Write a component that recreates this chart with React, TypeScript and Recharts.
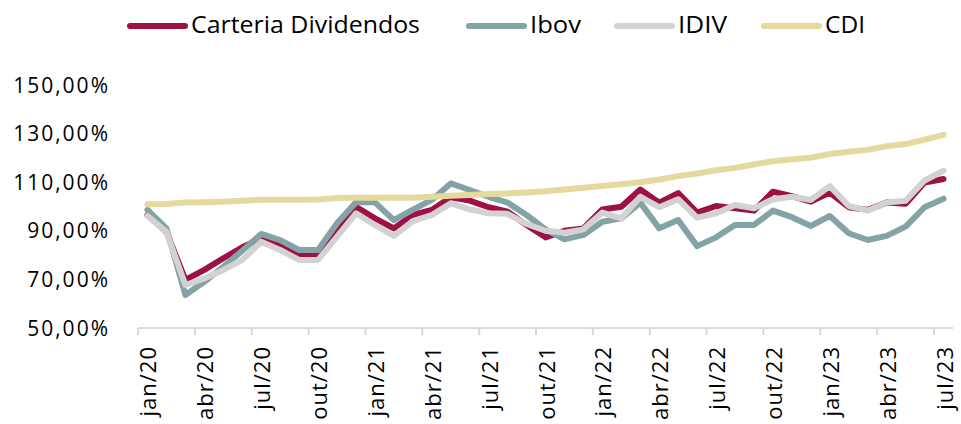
import React from 'react';
import { LineChart, Line, XAxis, YAxis } from 'recharts';

const months: string[] = [
  'jan/20','fev/20','mar/20','abr/20','mai/20','jun/20','jul/20','ago/20','set/20','out/20','nov/20','dez/20',
  'jan/21','fev/21','mar/21','abr/21','mai/21','jun/21','jul/21','ago/21','set/21','out/21','nov/21','dez/21',
  'jan/22','fev/22','mar/22','abr/22','mai/22','jun/22','jul/22','ago/22','set/22','out/22','nov/22','dez/22',
  'jan/23','fev/23','mar/23','abr/23','mai/23','jun/23','jul/23',
];

const carteria: number[] = [
  96.5, 89.6, 69.8, 73.9, 78.7, 83.2, 86.9, 84.2, 80.0, 80.0, 89.6, 99.9,
  95.1, 91.0, 96.5, 98.6, 103.8, 102.4, 99.7, 97.9, 92.4, 87.3, 90.0, 91.0,
  98.8, 99.9, 107.0, 101.6, 105.5, 97.5, 100.2, 99.3, 98.3, 106.1, 104.3, 102.0,
  105.7, 99.7, 98.6, 101.6, 101.1, 109.9, 111.3,
];

const ibov: number[] = [
  98.6, 91.0, 63.6, 69.0, 75.2, 81.8, 88.7, 86.2, 82.1, 82.1, 93.1, 101.7,
  101.7, 94.4, 98.7, 102.7, 109.5, 106.8, 104.0, 101.6, 96.5, 90.6, 86.5, 88.3,
  93.7, 95.1, 101.6, 91.0, 94.4, 83.7, 87.3, 92.4, 92.4, 98.3, 95.6, 92.0,
  96.1, 89.0, 86.2, 87.9, 91.7, 99.7, 103.2,
];

const idiv: number[] = [
  96.1, 89.6, 67.7, 70.4, 73.9, 78.0, 85.5, 82.1, 78.0, 78.0, 87.6, 97.2,
  92.4, 87.9, 94.0, 96.5, 101.3, 98.8, 97.2, 97.0, 92.8, 90.0, 89.2, 90.6,
  97.5, 95.1, 104.0, 99.7, 103.0, 95.4, 97.2, 100.6, 99.3, 103.0, 104.0, 102.7,
  108.4, 100.2, 98.3, 101.6, 102.4, 110.7, 114.8,
];

const cdi: number[] = [
  100.9, 101.0, 101.6, 101.8, 102.0, 102.4, 102.8, 102.8, 102.8, 102.9, 103.5, 103.6,
  103.6, 103.7, 103.6, 104.0, 104.4, 104.7, 105.1, 105.4, 105.8, 106.3, 107.0, 107.7,
  108.4, 109.2, 110.0, 111.1, 112.5, 113.6, 114.9, 115.9, 117.3, 118.6, 119.4, 120.1,
  121.6, 122.5, 123.3, 124.8, 125.7, 127.5, 129.5,
];

const yTicks: number[] = [50, 70, 90, 110, 130, 150];
const xTickIdx: number[] = [0, 3, 6, 9, 12, 15, 18, 21, 24, 27, 30, 33, 36, 39, 42];

const seriesDefs = [
  { key: 'carteria', name: 'Carteria Dividendos', color: '#9E1146' },
  { key: 'ibov', name: 'Ibov', color: '#84A3A6' },
  { key: 'idiv', name: 'IDIV', color: '#D3D1D2' },
  { key: 'cdi', name: 'CDI', color: '#E4DA9E' },
];

const legendLayout = [
  { x: 127, textLen: 229 },
  { x: 466, textLen: 51 },
  { x: 614, textLen: 49 },
  { x: 761, textLen: 40 },
];

const data = months.map((m, i) => ({
  i,
  m,
  carteria: carteria[i],
  ibov: ibov[i],
  idiv: idiv[i],
  cdi: cdi[i],
}));

const W = 961;
const H = 424;
const PLOT_LEFT = 138;
const PLOT_RIGHT = 953;
const PLOT_TOP = 85;
const PLOT_BOTTOM = 328;
const BAND = (PLOT_RIGHT - PLOT_LEFT) / months.length;
const FONT = '"Open Sans", "DejaVu Sans", sans-serif';

const XTick = (props: any) => {
  const { x, payload } = props;
  const idx = payload.value as number;
  const label = months[idx];
  const tx = x + 9;
  const ty = PLOT_BOTTOM + 18;
  return (
    <g>
      <line x1={x - BAND / 2} x2={x - BAND / 2} y1={PLOT_BOTTOM} y2={PLOT_BOTTOM + 7} stroke="#D9D9D9" strokeWidth={2} />
      <text
        x={tx}
        y={ty}
        transform={`rotate(-90, ${tx}, ${ty})`}
        textAnchor="end"
        fontFamily={FONT}
        fontSize={22}
        letterSpacing={1}
        fill="#000"
      >
        {label}
      </text>
    </g>
  );
};

const YTick = (props: any) => {
  const { y, payload } = props;
  const v = payload.value as number;
  return (
    <text
      x={110}
      y={y}
      dy="0.36em"
      textAnchor="end"
      fontFamily={FONT}
      fontSize={21}
      letterSpacing={2}
      fill="#000"
    >
      {`${v},00%`}
    </text>
  );
};

const LegendBar = () => (
  <svg width={W} height={50} style={{ position: 'absolute', left: 0, top: 0 }}>
    {seriesDefs.map((s, k) => {
      const L = legendLayout[k];
      return (
        <g key={s.key}>
          <line x1={L.x + 3} x2={L.x + 58} y1={26} y2={26} stroke={s.color} strokeWidth={6} strokeLinecap="round" />
          <text
            x={L.x + 64}
            y={33}
            fontFamily={FONT}
            fontSize={23}
            textLength={L.textLen}
            lengthAdjust="spacingAndGlyphs"
            fill="#000"
          >
            {s.name}
          </text>
        </g>
      );
    })}
  </svg>
);

export default function App() {
  return (
    <div style={{ position: 'absolute', left: 0, top: 0, width: W, height: H, background: '#fff' }}>
      <LineChart
        width={W}
        height={H}
        data={data}
        margin={{ top: PLOT_TOP, right: W - PLOT_RIGHT, bottom: 6, left: 8 }}
      >
        <XAxis
          dataKey="i"
          type="number"
          domain={[-0.5, months.length - 0.5]}
          ticks={xTickIdx}
          interval={0}
          height={H - PLOT_BOTTOM - 6}
          axisLine={{ stroke: '#D9D9D9', strokeWidth: 2 }}
          tickLine={false}
          tick={<XTick />}
        />
        <YAxis
          type="number"
          domain={[50, 150]}
          ticks={yTicks}
          width={PLOT_LEFT - 8}
          axisLine={false}
          tickLine={false}
          tick={<YTick />}
        />
        {seriesDefs.map((s) => (
          <Line
            key={s.key}
            type="linear"
            dataKey={s.key}
            name={s.name}
            stroke={s.color}
            strokeWidth={6}
            strokeLinejoin="round"
            strokeLinecap="round"
            dot={false}
            activeDot={false}
            isAnimationActive={false}
          />
        ))}
      </LineChart>
      <LegendBar />
    </div>
  );
}
